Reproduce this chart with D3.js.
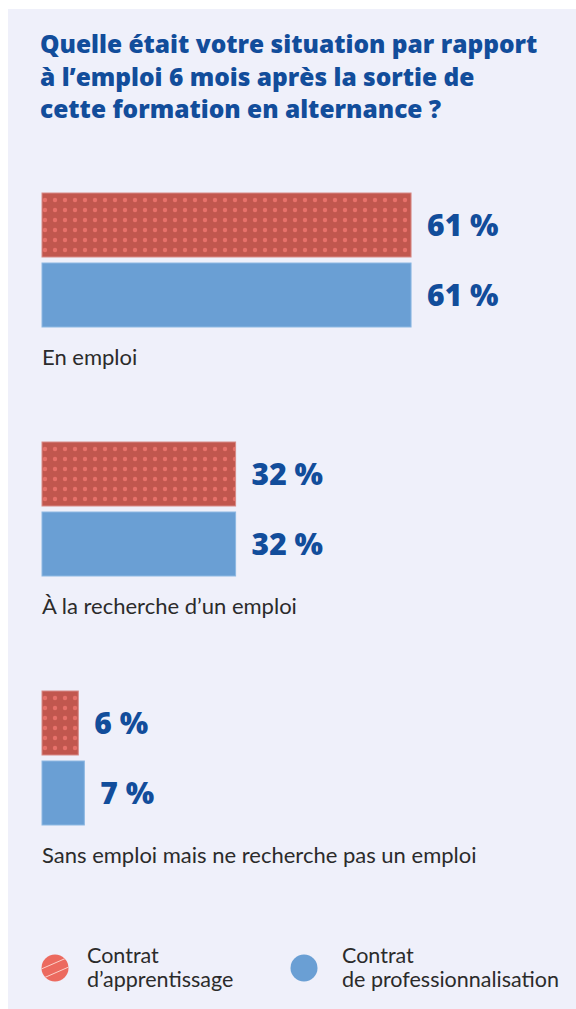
<!DOCTYPE html>
<html><head><meta charset="utf-8">
<script src="https://cdn.jsdelivr.net/npm/d3@7"></script>
<style>
html,body{margin:0;padding:0;background:#fff;}
svg{display:block;}
</style></head>
<body>
<script>
const titleLines = ["Quelle était votre situation par rapport", "à l’emploi 6 mois après la sortie de", "cette formation en alternance ?"];
const categories = ["En emploi", "À la recherche d’un emploi", "Sans emploi mais ne recherche pas un emploi"];
const seriesNames = ["Contrat d’apprentissage", "Contrat de professionnalisation"];
const legendLines = [["Contrat", "d’apprentissage"], ["Contrat", "de professionnalisation"]];
const apprentissage = [61, 32, 6];
const professionnalisation = [61, 32, 7];

const W = 576, H = 1009;
const blue = "#124d9b";
const svg = d3.select("body").append("svg").attr("width", W).attr("height", H);

const defs = svg.append("defs");
const pat = defs.append("pattern").attr("id","dots").attr("patternUnits","userSpaceOnUse")
  .attr("width",10).attr("height",10).attr("x",-2).attr("y",2);
pat.append("rect").attr("width",10).attr("height",10).attr("fill","#c1574e");
pat.append("circle").attr("cx",5).attr("cy",5).attr("r",2.2).attr("fill","#e7716a");

const hatch = defs.append("clipPath").attr("id","lc");
hatch.append("circle").attr("cx",0).attr("cy",0).attr("r",13.5);

svg.append("rect").attr("x",8).attr("y",9).attr("width",W-8).attr("height",H-9).attr("fill","#eff0fa");

svg.append("g").selectAll("text").data(titleLines).join("text")
  .attr("x",40).attr("y",(d,i)=>53+i*32.5)
  .attr("font-family","Open Sans").attr("font-weight",800).attr("font-size",24.5)
  .attr("fill",blue).text(d=>d);

const x = d3.scaleLinear().domain([0,100]).range([0,605]);
const y = d3.scaleBand().domain(categories).range([193, 193+3*249]).padding(0);
const barH = 64, off = 70;

const data = categories.map((c,i)=>({c, a:apprentissage[i], p:professionnalisation[i]}));
const g = svg.append("g").selectAll("g").data(data).join("g")
  .attr("transform", d=>`translate(42,${y(d.c)})`);

g.append("rect").attr("x",0).attr("y",0).attr("width",d=>x(d.a)).attr("height",barH)
  .attr("fill","url(#dots)").attr("stroke","#d88a86").attr("stroke-width",1);
g.append("rect").attr("x",0).attr("y",off).attr("width",d=>x(d.p)).attr("height",barH)
  .attr("fill","#6a9fd4").attr("stroke","#8db8e2").attr("stroke-width",1);

g.append("text").attr("x",d=>x(d.a)+16).attr("y",barH/2+10.5)
  .attr("font-family","Open Sans").attr("font-weight",800).attr("font-size",30)
  .attr("fill",blue).text(d=>d.a+" %");
g.append("text").attr("x",d=>x(d.p)+16).attr("y",off+barH/2+10.5)
  .attr("font-family","Open Sans").attr("font-weight",800).attr("font-size",30)
  .attr("fill",blue).text(d=>d.p+" %");

g.append("text").attr("x",0).attr("y",off+barH+38)
  .attr("font-family","Lato").attr("font-size",22).attr("fill","#2b2b2b").text(d=>d.c);

// legend
const leg = svg.append("g").selectAll("g").data(seriesNames).join("g")
  .attr("transform",(d,i)=>`translate(${i===0?55:304},968)`);
leg.append("circle").attr("r",13.5).attr("fill",(d,i)=>i===0?"#ec6a5f":"#6a9fd4");
leg.filter((d,i)=>i===0).append("g").attr("clip-path","url(#lc)").selectAll("line").data([-5,5]).join("line")
  .attr("x1",-16).attr("x2",16).attr("y1",d=>d+7).attr("y2",d=>d-7)
  .attr("stroke","#fbd0c8").attr("stroke-width",1);
leg.each(function(d,i){
  d3.select(this).selectAll("text").data(legendLines[i]).join("text")
    .attr("x", i===0?32:38).attr("y",(t,j)=>-5+j*24)
    .attr("font-family","Lato").attr("font-size",21.5).attr("fill","#2b2b2b").text(t=>t);
});
</script>
</body></html>
